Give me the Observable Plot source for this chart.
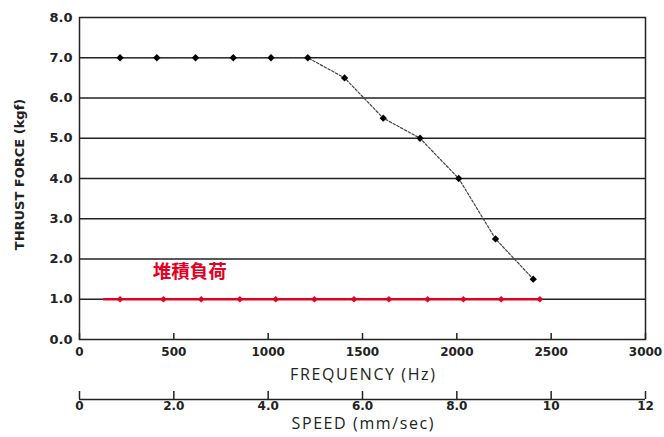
<!DOCTYPE html>
<html><head><meta charset="utf-8">
<script src="https://cdn.jsdelivr.net/npm/d3@7"></script>
<script src="https://cdn.jsdelivr.net/npm/@observablehq/plot@0.6"></script>
<style>
body{margin:0;background:#fff;}
#wrap{width:664px;height:437px;position:relative;background:#fff;}
#wrap svg{display:block;}
</style></head>
<body><div id="wrap"></div>
<script>
// Data
const blackFreq  = [215, 410, 615, 815, 1015, 1210, 1405, 1610, 1805, 2010, 2205, 2405];
const blackForce = [7.0, 7.0, 7.0, 7.0, 7.0, 7.0, 6.5, 5.5, 5.0, 4.0, 2.5, 1.5];
const redFreq    = [215, 445, 645, 850, 1040, 1245, 1455, 1640, 1845, 2035, 2235, 2440];
const redForce   = [1.0, 1.0, 1.0, 1.0, 1.0, 1.0, 1.0, 1.0, 1.0, 1.0, 1.0, 1.0];
const redLineFreq  = [130, 2440];
const redLineForce = [1.0, 1.0];
const redLabel = "堆積負荷";
const redLabelPos = {freq: 585, force: 1.68};
const freqTicks  = [0, 500, 1000, 1500, 2000, 2500, 3000];
const forceTicks = [0, 1, 2, 3, 4, 5, 6, 7, 8];
const gridForce  = [1, 2, 3, 4, 5, 6, 7];
const speedTicks = [0, 2, 4, 6, 8, 10, 12];
const speedTickLabels = ["0", "2.0", "4.0", "6.0", "8.0", "10", "12"];
const xTitle = "FREQUENCY (Hz)";
const yTitle = "THRUST FORCE (kgf)";
const speedTitle = "SPEED (mm/sec)";

const black = blackFreq.map((f, i) => ({f, v: blackForce[i]}));
const red = redFreq.map((f, i) => ({f, v: redForce[i]}));
const redLine = redLineFreq.map((f, i) => ({f, v: redLineForce[i]}));

const tickFont = "DejaVu Sans, sans-serif";
const titleFont = "Open Sans, Lato, sans-serif";

const main = Plot.plot({
  width: 664, height: 390,
  marginLeft: 79, marginRight: 19, marginTop: 17, marginBottom: 51,
  style: {background: "#fff", color: "#222"},
  x: {domain: [0, 3000]},
  y: {domain: [0, 8]},
  marks: [
    Plot.ruleY(gridForce, {stroke: "#222", strokeWidth: 1.5}),
    Plot.frame({stroke: "#222", strokeWidth: 1.5}),
    Plot.ruleX(freqTicks, {x: d => d, y1: 0, y2: 0, insetBottom: 6, stroke: "#222", strokeWidth: 1.5}),
    Plot.axisY(forceTicks, {tickSize: 0, tickPadding: 7, tickFormat: d => d.toFixed(1),
      fontSize: 13, fontWeight: "bold", fontFamily: tickFont, fill: "#222", label: null}),
    Plot.axisX(freqTicks, {tickSize: 0, tickPadding: 8, tickFormat: d => String(d),
      fontSize: 12, fontWeight: "bold", fontFamily: tickFont, fill: "#222", label: null}),
    Plot.text([xTitle], {frameAnchor: "bottom", dy: 40, fontSize: 16, fontFamily: titleFont, fill: "#222"}),
    Plot.text([yTitle], {frameAnchor: "left", textAnchor: "middle", dx: -60, dy: -4, rotate: -90, fontSize: 13,
      fontWeight: "bold", fontFamily: tickFont, fill: "#222"}),
    Plot.line(redLine, {x: "f", y: "v", stroke: "#e30024", strokeWidth: 2.5}),
    Plot.dot(red, {x: "f", y: "v", symbol: "diamond2", r: 3, fill: "#e30024"}),
    Plot.line(black, {x: "f", y: "v", stroke: "#444", strokeWidth: 1.2, strokeDasharray: "2.5,1.8"}),
    Plot.dot(black, {x: "f", y: "v", symbol: "diamond2", r: 3.3, fill: "#000"}),
    Plot.text([redLabel], {x: () => redLabelPos.freq, y: () => redLabelPos.force, fontSize: 18.5, fontWeight: "bold",
      fontFamily: "Noto Sans CJK JP, sans-serif", fill: "#e30024"})
  ]
});

const speed = Plot.plot({
  width: 664, height: 47,
  marginLeft: 79, marginRight: 19, marginTop: 1, marginBottom: 38,
  style: {background: "#fff", color: "#222"},
  x: {domain: [0, 12]},
  y: {domain: [0, 1], axis: null},
  marks: [
    Plot.ruleY([0], {stroke: "#222", strokeWidth: 1.5}),
    Plot.ruleX(speedTicks, {x: d => d, y1: 0, y2: 1, stroke: "#222", strokeWidth: 1.5}),
    Plot.axisX(speedTicks, {tickSize: 0, tickPadding: 2, tickFormat: (d) => speedTickLabels[speedTicks.indexOf(d)],
      fontSize: 12, fontWeight: "bold", fontFamily: tickFont, fill: "#222", label: null}),
    Plot.text([speedTitle], {frameAnchor: "bottom", dy: 29, fontSize: 16, fontFamily: titleFont, fill: "#222"})
  ]
});

const wrap = document.getElementById("wrap");
wrap.appendChild(main);
wrap.appendChild(speed);
d3.select(wrap).selectAll("text")
  .filter(function() { return this.textContent === xTitle || this.textContent === speedTitle; })
  .attr("letter-spacing", "1.6")
  .attr("dx", "0.8");
</script></body></html>
